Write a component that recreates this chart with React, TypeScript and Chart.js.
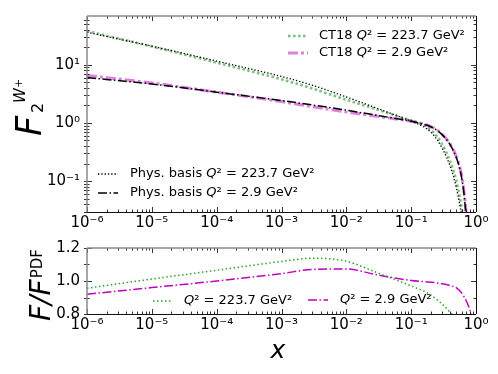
import React, { useEffect, useRef } from 'react';
import { Chart, registerables } from 'chart.js';

Chart.register(...registerables);

// ---------- data ----------
const topX = [1e-6, 1e-5, 1e-4, 1e-3, 3e-3, 1e-2, 3e-2, 0.1, 0.15, 0.2, 0.25, 0.3, 0.35, 0.4, 0.45, 0.5, 0.55, 0.6, 0.65, 0.7, 0.75];
const physQ223 = [36.3, 20.9, 11.6, 6.3, 4.45, 2.8, 1.78, 1.07, 0.88, 0.7, 0.52, 0.37, 0.26, 0.18, 0.12, 0.075, 0.045, 0.025, 0.012, 0.005, 0.002];
const ct18Q223 = [38.0, 20.65, 10.9, 5.63, 3.91, 2.5, 1.7, 1.1, 0.94, 0.76, 0.59, 0.43, 0.31, 0.22, 0.15, 0.098, 0.061, 0.035, 0.018, 0.008, 0.0035];
const physQ29 = [6.03, 4.68, 3.39, 2.43, 2.04, 1.66, 1.35, 1.07, 0.96, 0.86, 0.75, 0.63, 0.52, 0.42, 0.33, 0.25, 0.18, 0.115, 0.063, 0.026, 0.0085];
const ct18Q29 = [6.55, 4.88, 3.39, 2.33, 1.9, 1.55, 1.3, 1.07, 0.97, 0.87, 0.76, 0.64, 0.53, 0.43, 0.34, 0.26, 0.19, 0.125, 0.07, 0.031, 0.011];

const ratioX = [1e-6, 1e-5, 1e-4, 1e-3, 3e-3, 1e-2, 3e-2, 0.1, 0.2, 0.3, 0.4, 0.5, 0.63, 0.79, 0.87, 0.93];
const ratioQ223 = [0.956, 1.012, 1.065, 1.118, 1.138, 1.12, 1.05, 0.97, 0.916, 0.86, 0.81, 0.765, 0.7, 0.6, 0.55, 0.5];
const ratioQ29 = [0.92, 0.96, 1.0, 1.045, 1.07, 1.073, 1.037, 1.003, 0.993, 0.983, 0.972, 0.958, 0.916, 0.835, 0.78, 0.72];

const xTickPowers = [-6, -5, -4, -3, -2, -1, 0];
const topYTickPowers = [-1, 0, 1];
const bottomYTicks = [0.8, 1.0, 1.2];
const bottomYMinorTicks = [0.9, 1.1];

const legendTop223 = ['CT18 ', 'Q', '² = 223.7 GeV²'];
const legendTop29 = ['CT18 ', 'Q', '² = 2.9 GeV²'];
const legendPhys223 = ['Phys. basis ', 'Q', '² = 223.7 GeV²'];
const legendPhys29 = ['Phys. basis ', 'Q', '² = 2.9 GeV²'];
const legendRatio223 = ['', 'Q', '² = 223.7 GeV²'];
const legendRatio29 = ['', 'Q', '² = 2.9 GeV²'];

// ---------- helpers ----------
const FONT = "'DejaVu Sans', sans-serif";
const SUP: Record<string, string> = { '-': '⁻', '0': '⁰', '1': '¹', '2': '²', '3': '³', '4': '⁴', '5': '⁵', '6': '⁶', '7': '⁷', '8': '⁸', '9': '⁹' };
const powLabel = (p: number) => '10' + String(p).split('').map((c) => SUP[c]).join('');
const pts = (xs: number[], ys: number[]) => xs.map((x, i) => ({ x, y: ys[i] }));

const logMinor = (pmin: number, pmax: number, lo: number, hi: number) => {
  const out: number[] = [];
  for (let p = pmin; p <= pmax; p++) for (let m = 2; m <= 9; m++) {
    const v = m * Math.pow(10, p);
    if (v > lo && v < hi) out.push(v);
  }
  return out;
};

type Part = { t: string; font: string; u?: number; v?: number; gap?: number };

function drawRotated(ctx: CanvasRenderingContext2D, bx: number, by: number, parts: Part[]) {
  ctx.save();
  ctx.translate(bx, by);
  ctx.rotate(-Math.PI / 2);
  ctx.fillStyle = '#000';
  ctx.textBaseline = 'alphabetic';
  ctx.textAlign = 'left';
  let end = 0;
  for (const p of parts) {
    ctx.font = p.font;
    const u = p.u !== undefined ? p.u : end + (p.gap || 0);
    ctx.fillText(p.t, u, p.v || 0);
    end = u + ctx.measureText(p.t).width;
  }
  ctx.restore();
}

function drawLegendText(ctx: CanvasRenderingContext2D, x: number, y: number, parts: string[], size: number) {
  let cx = x;
  ctx.fillStyle = '#000';
  ctx.textBaseline = 'middle';
  ctx.textAlign = 'left';
  parts.forEach((t, i) => {
    ctx.font = `${i === 1 ? 'italic ' : ''}${size}px ${FONT}`;
    ctx.fillText(t, cx, y);
    cx += ctx.measureText(t).width;
  });
}

type LegendEntry = { dx1: number; dx2: number; tx: number; y: number; color: string; width: number; dash: number[]; parts: string[] };

function makePlugins(opts: {
  xMajor: number[]; xMinor: number[]; yMajor: number[]; yMinor: number[];
  legends: LegendEntry[]; titles: (ctx: CanvasRenderingContext2D, chart: any) => void;
}) {
  return {
    id: 'decor',
    afterDraw(chart: any) {
      const ctx: CanvasRenderingContext2D = chart.ctx;
      const { left, right, top, bottom } = chart.chartArea;
      const xs = chart.scales.x, ys = chart.scales.y;
      ctx.save();
      // ticks
      ctx.strokeStyle = '#000';
      ctx.lineWidth = 0.8;
      const seg = (x1: number, y1: number, x2: number, y2: number) => {
        ctx.beginPath(); ctx.moveTo(x1, y1); ctx.lineTo(x2, y2); ctx.stroke();
      };
      const xt = (v: number, L: number) => {
        const px = Math.round(xs.getPixelForValue(v)) + 0.5;
        seg(px, bottom, px, bottom - L);
        seg(px, top, px, top + L);
      };
      const yt = (v: number, L: number) => {
        const py = Math.round(ys.getPixelForValue(v)) + 0.5;
        seg(left - 3, py, left + L, py);
        seg(right, py, right - L, py);
      };
      opts.xMajor.forEach((v) => xt(v, 5));
      opts.xMinor.forEach((v) => xt(v, 2.5));
      opts.yMajor.forEach((v) => yt(v, 5));
      opts.yMinor.forEach((v) => yt(v, 2.5));
      // spines
      ctx.lineWidth = 1.5;
      ctx.strokeStyle = '#8a8a8a';
      seg(left, top, right, top);
      seg(left, top, left, bottom);
      ctx.lineWidth = 1;
      ctx.strokeStyle = '#111';
      seg(Math.round(right) + 0.5, top, Math.round(right) + 0.5, bottom);
      seg(left, Math.round(bottom) + 0.5, right, Math.round(bottom) + 0.5);
      // legends
      for (const e of opts.legends) {
        ctx.save();
        ctx.strokeStyle = e.color;
        ctx.lineWidth = e.width;
        ctx.setLineDash(e.dash);
        seg(left + e.dx1, top + e.y, left + e.dx2, top + e.y);
        ctx.restore();
        drawLegendText(ctx, left + e.tx, top + e.y, e.parts, 13);
      }
      opts.titles(ctx, chart);
      ctx.restore();
    },
  };
}

const C_GREEN_LIGHT = 'rgba(0,128,0,0.5)';
const C_MAG_LIGHT = 'rgba(191,0,191,0.5)';
const C_GREEN = '#2ca02c';
const C_MAG = '#c000c0';
const DOT_BLACK = [1.3, 2];
const DASHDOT_BLACK = [9, 2.5, 1.5, 2.5];
const DOT_GREEN_LIGHT = [2.6, 2.4];
const DASHDOT_MAG_LIGHT = [10, 3, 3, 3];
const DOT_GREEN = [1.5, 2.5];
const DASHDOT_MAG = [9, 2.5, 1.5, 2.5];

const tickFont = { family: FONT, size: 15 };

function xScale(height: number) {
  return {
    type: 'logarithmic' as const,
    min: 1e-6,
    max: 1,
    afterBuildTicks: (s: any) => { s.ticks = xTickPowers.map((p) => ({ value: Math.pow(10, p) })); },
    afterFit: (s: any) => { s.height = height; },
    grid: { display: false, drawTicks: false },
    border: { display: false },
    ticks: {
      autoSkip: false, maxRotation: 0, minRotation: 0, padding: 2, color: '#000', font: tickFont,
      callback: (v: any) => powLabel(Math.round(Math.log10(Number(v)))),
    },
  };
}

export default function App() {
  const topRef = useRef<HTMLCanvasElement>(null);
  const botRef = useRef<HTMLCanvasElement>(null);

  useEffect(() => {
    Chart.defaults.font.family = FONT;
    const common = { pointRadius: 0, fill: false, cubicInterpolationMode: 'monotone' as const };

    const topChart = new Chart(topRef.current!, {
      type: 'line',
      data: {
        datasets: [
          { data: pts(topX, physQ223), borderColor: '#000', borderWidth: 1.3, borderDash: DOT_BLACK, ...common },
          { data: pts(topX, physQ29), borderColor: '#000', borderWidth: 1.5, borderDash: DASHDOT_BLACK, ...common },
          { data: pts(topX, ct18Q223), borderColor: C_GREEN_LIGHT, borderWidth: 2.6, borderDash: DOT_GREEN_LIGHT, ...common },
          { data: pts(topX, ct18Q29), borderColor: C_MAG_LIGHT, borderWidth: 3, borderDash: DASHDOT_MAG_LIGHT, ...common },
        ],
      },
      options: {
        animation: false,
        responsive: false,
        layout: { padding: { top: 12, right: 22, left: 0, bottom: 0 } },
        plugins: { legend: { display: false }, tooltip: { enabled: false } },
        scales: {
          x: xScale(20) as any,
          y: {
            type: 'logarithmic',
            min: 0.0295,
            max: 69,
            afterBuildTicks: (s: any) => { s.ticks = topYTickPowers.map((p) => ({ value: Math.pow(10, p) })); },
            afterFit: (s: any) => { s.width = 87; },
            grid: { display: false, drawTicks: false },
            border: { display: false },
            ticks: {
              autoSkip: false, padding: 7, color: '#000', font: tickFont,
              callback: (v: any) => powLabel(Math.round(Math.log10(Number(v)))),
            },
          } as any,
        },
      },
      plugins: [
        makePlugins({
          xMajor: xTickPowers.map((p) => Math.pow(10, p)),
          xMinor: logMinor(-6, -1, 1e-6, 1),
          yMajor: topYTickPowers.map((p) => Math.pow(10, p)),
          yMinor: logMinor(-2, 1, 0.0295, 69),
          legends: [
            { dx1: 201, dx2: 221, tx: 232, y: 20, color: C_GREEN_LIGHT, width: 2.6, dash: DOT_GREEN_LIGHT, parts: legendTop223 },
            { dx1: 201, dx2: 221, tx: 232, y: 37, color: C_MAG_LIGHT, width: 3, dash: DASHDOT_MAG_LIGHT, parts: legendTop29 },
            { dx1: 11, dx2: 31, tx: 43, y: 158, color: '#000', width: 1.3, dash: DOT_BLACK, parts: legendPhys223 },
            { dx1: 11, dx2: 31, tx: 43, y: 177, color: '#000', width: 1.5, dash: DASHDOT_BLACK, parts: legendPhys29 },
          ],
          titles: (ctx) => {
            drawRotated(ctx, 41, 136, [
              { t: 'F', font: `italic 35px ${FONT}`, u: 0, v: 0 },
              { t: '2', font: `16px ${FONT}`, u: 23, v: 1.5 },
              { t: 'W', font: `italic 15px ${FONT}`, u: 33, v: -16 },
              { t: '+', font: `11px ${FONT}`, u: 48, v: -19 },
            ]);
          },
        }) as any,
      ],
    });

    const botChart = new Chart(botRef.current!, {
      type: 'line',
      data: {
        datasets: [
          { data: pts(ratioX, ratioQ223), borderColor: C_GREEN, borderWidth: 1.5, borderDash: DOT_GREEN, ...common },
          { data: pts(ratioX, ratioQ29), borderColor: C_MAG, borderWidth: 1.5, borderDash: DASHDOT_MAG, ...common },
        ],
      },
      options: {
        animation: false,
        responsive: false,
        layout: { padding: { top: 15, right: 22, left: 0, bottom: 0 } },
        plugins: { legend: { display: false }, tooltip: { enabled: false } },
        scales: {
          x: xScale(60) as any,
          y: {
            type: 'linear',
            min: 0.8,
            max: 1.2,
            afterBuildTicks: (s: any) => { s.ticks = bottomYTicks.map((v) => ({ value: v })); },
            afterFit: (s: any) => { s.width = 87; },
            grid: { display: false, drawTicks: false },
            border: { display: false },
            ticks: {
              autoSkip: false, padding: 7, color: '#000', font: tickFont,
              callback: (v: any) => Number(v).toFixed(1),
            },
          } as any,
        },
      },
      plugins: [
        makePlugins({
          xMajor: xTickPowers.map((p) => Math.pow(10, p)),
          xMinor: logMinor(-6, -1, 1e-6, 1),
          yMajor: bottomYTicks,
          yMinor: bottomYMinorTicks,
          legends: [
            { dx1: 66, dx2: 85, tx: 97, y: 53, color: C_GREEN, width: 1.5, dash: DOT_GREEN, parts: legendRatio223 },
            { dx1: 221, dx2: 241, tx: 253, y: 52, color: C_MAG, width: 1.5, dash: DASHDOT_MAG, parts: legendRatio29 },
          ],
          titles: (ctx) => {
            drawRotated(ctx, 50, 89, [
              { t: 'F/F', font: `italic 28px ${FONT}`, u: 0, v: 0 },
              { t: 'PDF', font: `15px ${FONT}`, gap: 1, v: -8 },
            ]);
            ctx.save();
            ctx.fillStyle = '#000';
            ctx.font = `italic 25px ${FONT}`;
            ctx.textAlign = 'center';
            ctx.textBaseline = 'alphabetic';
            ctx.fillText('x', 278, 126);
            ctx.restore();
          },
        }) as any,
      ],
    });

    return () => {
      topChart.destroy();
      botChart.destroy();
    };
  }, []);

  return (
    <div style={{ position: 'absolute', left: 0, top: 0, width: 498, height: 374, background: '#fff' }}>
      <canvas ref={topRef} width={498} height={232} style={{ display: 'block', width: 498, height: 232 }} />
      <canvas ref={botRef} width={498} height={142} style={{ display: 'block', width: 498, height: 142 }} />
    </div>
  );
}
